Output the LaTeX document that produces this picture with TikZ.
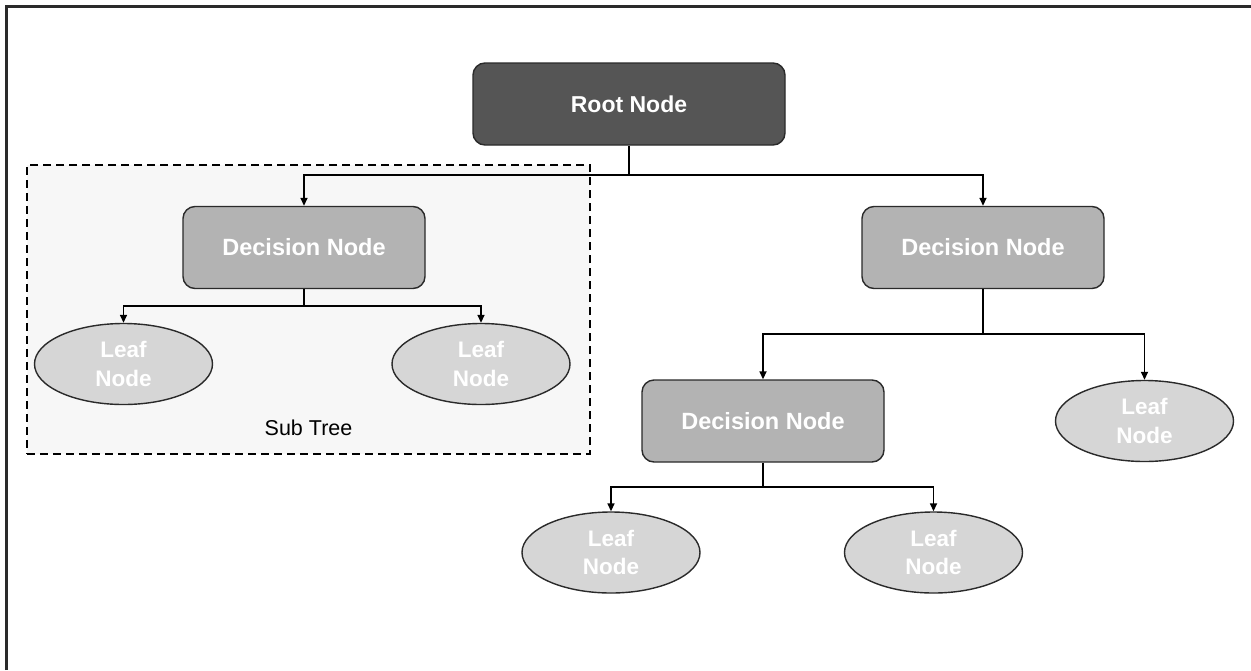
\documentclass[tikz,border=0pt]{standalone}
\usepackage{fontspec}
\setmainfont{Liberation Sans}
\usetikzlibrary{shapes.geometric,arrows.meta}
\definecolor{rootfill}{HTML}{555555}
\definecolor{decfill}{HTML}{B3B3B3}
\definecolor{leaffill}{HTML}{D6D6D6}
\definecolor{subfill}{HTML}{F7F7F7}
\definecolor{edgecol}{HTML}{2A2A2A}
\tikzset{
  rootbox/.style={draw=edgecol, line width=1.4pt, fill=rootfill, rounded corners=12pt,
    minimum width=312pt, minimum height=82pt, inner sep=0pt, text=white,
    font=\fontsize{23}{27}\selectfont\bfseries},
  decbox/.style={draw=edgecol, line width=1.4pt, fill=decfill, rounded corners=12pt,
    minimum width=242pt, minimum height=82pt, inner sep=0pt, text=white,
    font=\fontsize{23.5}{27}\selectfont\bfseries},
  leafbox/.style={ellipse, draw=edgecol, line width=1.4pt, fill=leaffill,
    minimum width=178pt, minimum height=81pt, inner sep=0pt, text=white, align=center,
    font=\fontsize{22.5}{28.5}\selectfont\bfseries},
  conn/.style={draw=black, line width=1.6pt, -{Triangle[length=8pt,width=7pt]}},
  plainconn/.style={draw=black, line width=1.6pt},
  subframe/.style={draw=black, line width=1.3pt, dash pattern=on 8pt off 5pt, fill=subfill},
  sublabel/.style={text=black, font=\fontsize{21.5}{24}\selectfont},
  frameline/.style={draw=edgecol, line width=2.6pt}
}
\begin{document}
\begin{tikzpicture}[x=1pt,y=-1pt]
\useasboundingbox (0,0) rectangle (1251,670);
\fill[white] (0,0) rectangle (1251,670);
% outer frame (top and left edges only visible)
\coordinate (fa) at (6.5,670);
\coordinate (fb) at (6.5,6.5);
\coordinate (fc) at (1251,6.5);
\draw[frameline] (fa) -- (fb) -- (fc);
% sub tree frame
\node[subframe, minimum width=563pt, minimum height=289pt, inner sep=0pt] (subtree) at (308.5,309.5) {};
\node[sublabel] (sublbl) at (308.5,428) {Sub Tree};
% nodes
\node[rootbox] (root) at (629,104) {Root Node};
\node[decbox] (d1) at (304,247.5) {Decision Node};
\node[decbox] (d2) at (983,247.5) {Decision Node};
\node[decbox] (d3) at (763,421) {Decision Node};
\node[leafbox] (l1) at (123.5,364) {Leaf\\Node};
\node[leafbox] (l2) at (481,364) {Leaf\\Node};
\node[leafbox] (l3) at (1144.5,421) {Leaf\\Node};
\node[leafbox] (l4) at (611,552.5) {Leaf\\Node};
\node[leafbox] (l5) at (933.5,552.5) {Leaf\\Node};
% junctions
\coordinate (j0) at (629,175);
\coordinate (j1) at (304,306);
\coordinate (j2) at (983,334);
\coordinate (j3) at (763,487);
% connectors
\draw[plainconn] (root.south) -- (j0);
\draw[conn] (j0) -| (d1.north);
\draw[conn] (j0) -| (d2.north);
\draw[plainconn] (d1.south) -- (j1);
\draw[conn] (j1) -| (l1.north);
\draw[conn] (j1) -| (l2.north);
\draw[plainconn] (d2.south) -- (j2);
\draw[conn] (j2) -| (d3.north);
\draw[conn] (j2) -| (l3.north);
\draw[plainconn] (d3.south) -- (j3);
\draw[conn] (j3) -| (l4.north);
\draw[conn] (j3) -| (l5.north);
\end{tikzpicture}
\end{document}
